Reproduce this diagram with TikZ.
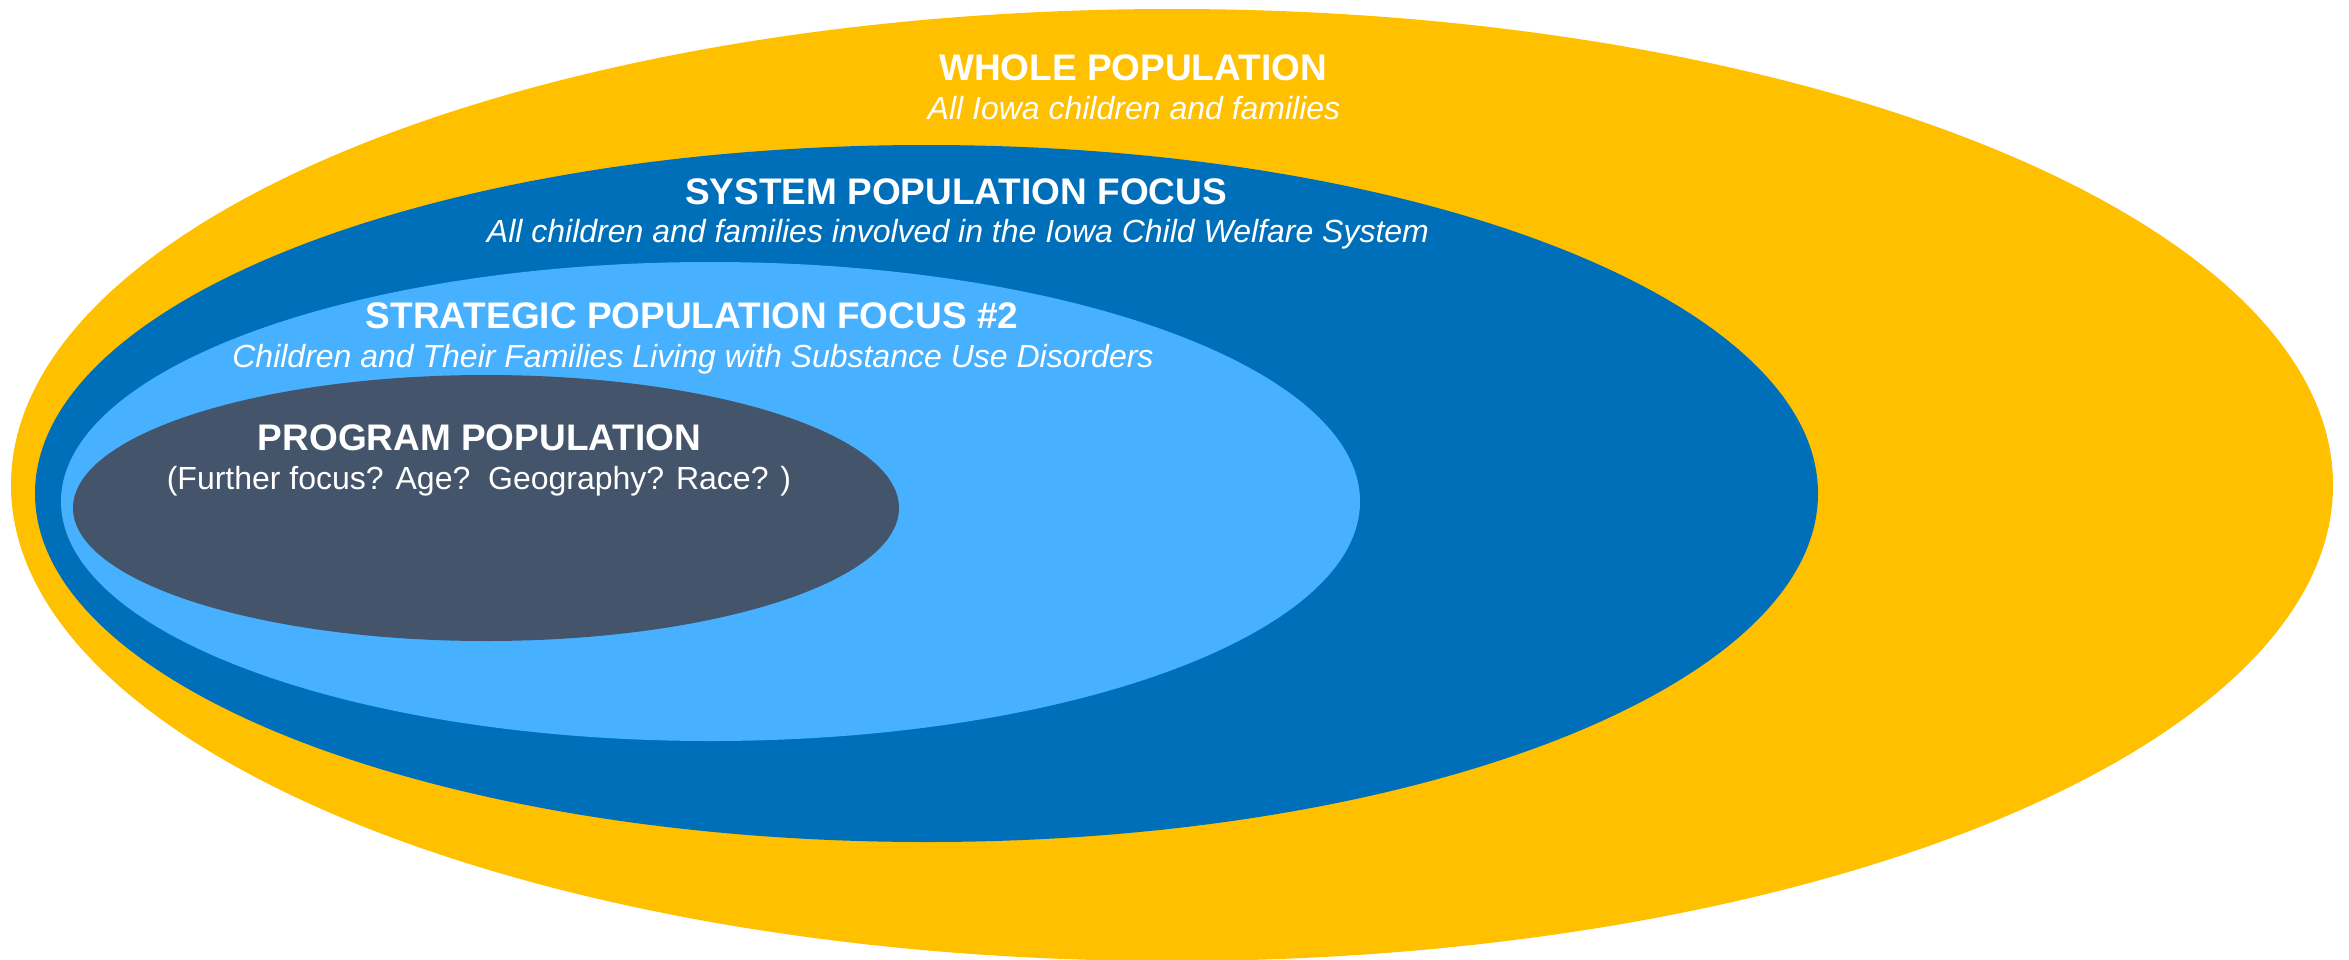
\documentclass[tikz,border=0pt]{standalone}
\usepackage{fontspec}
\setmainfont{Liberation Sans}
\usetikzlibrary{shapes.geometric}

\definecolor{wholeYellow}{HTML}{FFC000}
\definecolor{systemBlue}{HTML}{006FBA}
\definecolor{strategicBlue}{HTML}{47B1FF}
\definecolor{programSlate}{HTML}{44546A}

\tikzset{
  ring/.style={ellipse, inner sep=0pt, outer sep=0pt, draw=none},
  title/.style={anchor=base, text=white, inner sep=0pt,
    font=\fontsize{18.5pt}{22pt}\selectfont\bfseries},
  subtitle/.style={anchor=base, text=white, inner sep=0pt,
    font=\fontsize{16pt}{19pt}\selectfont\itshape},
  plainsub/.style={anchor=base, text=white, inner sep=0pt,
    font=\fontsize{16pt}{19pt}\selectfont},
}

\begin{document}
\begin{tikzpicture}[x=0.5pt, y=-0.5pt]
  \useasboundingbox (0,0) rectangle (2349,959);

  % nested population ellipses, outermost first
  \node[ring, fill=wholeYellow, minimum width=1161pt, minimum height=476pt]
    (whole) at (1172,485) {};
  \node[ring, fill=systemBlue, minimum width=891.5pt, minimum height=348.5pt]
    (system) at (926.5,493.5) {};
  \node[ring, fill=strategicBlue, minimum width=649.5pt, minimum height=239.5pt]
    (strategic) at (710.5,501.5) {};
  \node[ring, fill=programSlate, minimum width=413pt, minimum height=133pt]
    (program) at (486,508) {};

  % labels
  \node[title]    (wholeT)   at (1133,80)  {WHOLE POPULATION};
  \node[subtitle] (wholeS)   at (1134,119) {All Iowa children and families};

  \node[title]    (systemT)  at (956,204)  {SYSTEM POPULATION FOCUS};
  \node[subtitle] (systemS)  at (958,242)  {All children and families involved in the Iowa Child Welfare System};

  \node[title]    (stratT)   at (692,328)  {STRATEGIC POPULATION FOCUS \#2};
  \node[subtitle] (stratS)   at (693,367)  {Children and Their Families Living with Substance Use Disorders};

  \node[title]    (progT)    at (479.5,450) {PROGRAM POPULATION};
  \node[plainsub] (progS)    at (479,489)  {(Further focus? Age?\ \ Geography? Race? )};
\end{tikzpicture}
\end{document}
